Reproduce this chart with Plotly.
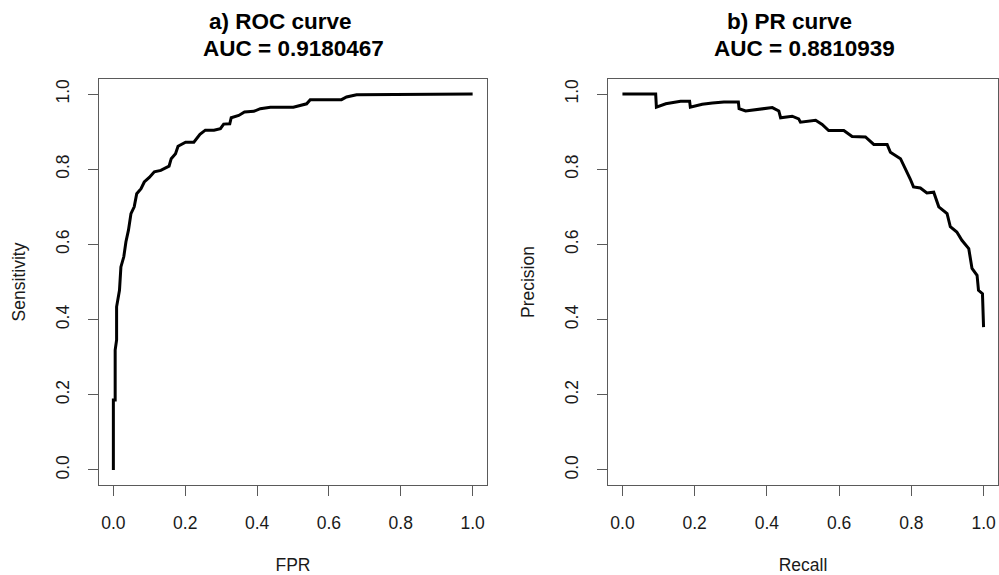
import plotly.graph_objects as go

# ROC curve (FPR vs Sensitivity)
roc_fpr = [0.0, 0.0, 0.005, 0.005, 0.009, 0.009, 0.017, 0.021, 0.029, 0.035, 0.042, 0.049,
           0.058, 0.065, 0.077, 0.086, 0.100, 0.114, 0.132, 0.155, 0.161, 0.173, 0.180,
           0.201, 0.224, 0.241, 0.256, 0.280, 0.298, 0.307, 0.324, 0.328, 0.349, 0.365,
           0.391, 0.409, 0.437, 0.501, 0.538, 0.548, 0.635, 0.649, 0.677, 0.861, 0.866, 1.0]
roc_sens = [0.0, 0.186, 0.186, 0.319, 0.346, 0.434, 0.478, 0.540, 0.567, 0.607, 0.638, 0.682,
            0.700, 0.735, 0.748, 0.766, 0.778, 0.793, 0.797, 0.808, 0.828, 0.841, 0.861,
            0.872, 0.872, 0.893, 0.904, 0.904, 0.908, 0.920, 0.921, 0.937, 0.943, 0.952,
            0.954, 0.961, 0.965, 0.965, 0.974, 0.985, 0.985, 0.992, 0.998, 0.998, 1.0, 1.0]

# PR curve (Recall vs Precision)
pr_recall = [0.0, 0.092, 0.094, 0.120, 0.161, 0.186, 0.188, 0.221, 0.249, 0.281, 0.321, 0.323,
             0.341, 0.387, 0.415, 0.433, 0.438, 0.470, 0.488, 0.493, 0.535, 0.553, 0.571,
             0.613, 0.636, 0.673, 0.696, 0.733, 0.742, 0.770, 0.784, 0.797, 0.806, 0.825,
             0.843, 0.862, 0.876, 0.899, 0.908, 0.926, 0.940, 0.959, 0.968, 0.982, 0.986,
             0.997, 1.0]
pr_precision = [1.0, 1.0, 0.965, 0.974, 0.981, 0.981, 0.965, 0.973, 0.976, 0.979, 0.979, 0.961,
                0.955, 0.961, 0.964, 0.955, 0.937, 0.941, 0.934, 0.925, 0.930, 0.919, 0.903,
                0.903, 0.887, 0.886, 0.866, 0.866, 0.845, 0.828, 0.801, 0.774, 0.753, 0.750,
                0.737, 0.739, 0.700, 0.682, 0.647, 0.633, 0.611, 0.589, 0.536, 0.518, 0.478,
                0.469, 0.380]

tick_vals = [0.0, 0.2, 0.4, 0.6, 0.8, 1.0]
tick_text = ["0.0", "0.2", "0.4", "0.6", "0.8", "1.0"]

W, H = 999, 575
FONT = "Liberation Sans, Arial, sans-serif"
AXC = "#5a5a5a"
TXT = "#1a1a1a"

fig = go.Figure()
fig.add_trace(go.Scatter(x=roc_fpr, y=roc_sens, mode="lines",
                         line=dict(color="black", width=3), xaxis="x", yaxis="y",
                         showlegend=False, hoverinfo="x+y"))
fig.add_trace(go.Scatter(x=pr_recall, y=pr_precision, mode="lines",
                         line=dict(color="black", width=3), xaxis="x2", yaxis="y2",
                         showlegend=False, hoverinfo="x+y"))

ydom = [1 - 485 / H, 1 - 79 / H]

def xax(dom, anchor, title):
    return dict(domain=dom, range=[-0.04, 1.04], tickvals=tick_vals, ticktext=tick_text,
                showline=True, mirror=True, linecolor=AXC, linewidth=1,
                ticks="outside", ticklen=10, tickcolor=AXC, tickwidth=1,
                showgrid=False, zeroline=False, ticklabelstandoff=12,
                tickfont=dict(family=FONT, size=17.5, color=TXT),
                title=dict(text=title, font=dict(family=FONT, size=17.5, color=TXT), standoff=26),
                anchor=anchor, automargin=False, fixedrange=True)

def yax(anchor, title):
    return dict(domain=ydom, range=[-0.04, 1.04], tickvals=tick_vals, ticktext=tick_text,
                showline=True, mirror=True, linecolor=AXC, linewidth=1,
                ticks="outside", ticklen=10, tickcolor=AXC, tickwidth=1,
                showgrid=False, zeroline=False, tickangle=-90, ticklabelstandoff=12,
                tickfont=dict(family=FONT, size=17.5, color=TXT),
                title=dict(text=title, font=dict(family=FONT, size=17.5, color=TXT), standoff=22),
                anchor=anchor, automargin=False, fixedrange=True)

fig.update_layout(
    width=W, height=H,
    margin=dict(l=0, r=0, t=0, b=0, autoexpand=False),
    paper_bgcolor="white", plot_bgcolor="white",
    xaxis=xax([99 / W, 487 / W], "y", "FPR"),
    yaxis=yax("x", "Sensitivity"),
    xaxis2=xax([608 / W, 998 / W], "y2", "Recall"),
    yaxis2=yax("x2", "Precision"),
)

titles = [
    ("<b>a) ROC curve</b>", 280, 22),
    ("<b>AUC = 0.9180467</b>", 293, 48),
    ("<b>b) PR curve</b>", 789, 22),
    ("<b>AUC = 0.8810939</b>", 804, 48),
]
for text, px, py in titles:
    fig.add_annotation(text=text, x=px / W, y=1 - py / H, xref="paper", yref="paper",
                       xanchor="center", yanchor="middle", showarrow=False,
                       font=dict(family=FONT, size=22.5, color="black"))

fig.write_html("out.html", config={"displayModeBar": False},
               post_script="document.body.style.margin='0';document.body.style.overflow='hidden';")
